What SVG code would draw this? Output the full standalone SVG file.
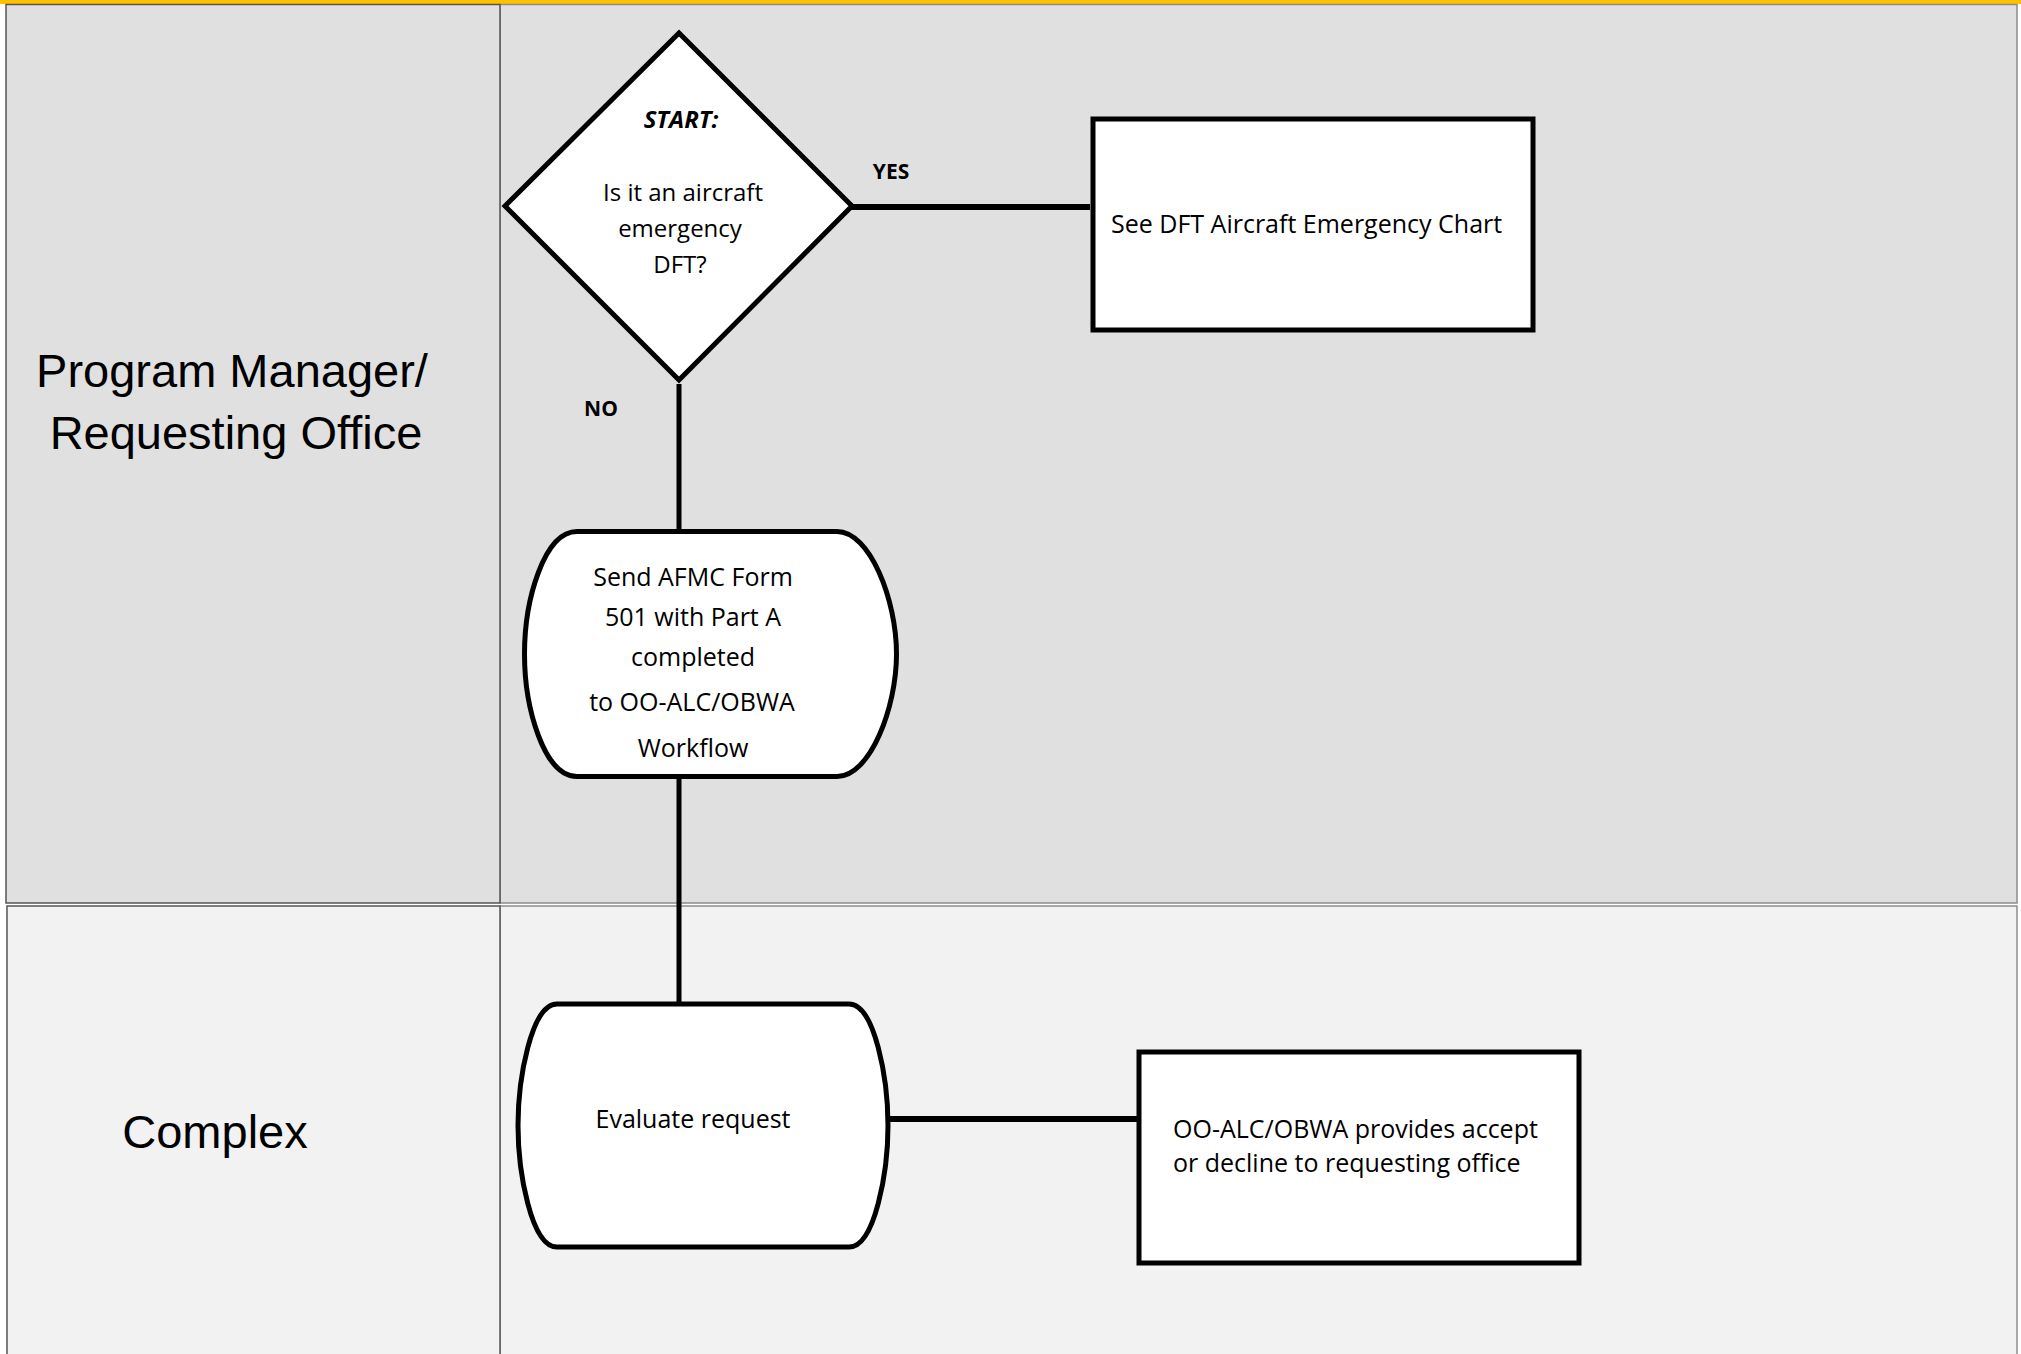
<svg xmlns="http://www.w3.org/2000/svg" width="2021" height="1354" viewBox="0 0 2021 1354">
<style>
.lane1{fill:#e0e0e0;stroke:#8c8c8c;stroke-width:1.5}
.lane2{fill:#f2f2f2;stroke:#8c8c8c;stroke-width:1.5}
.hdr{stroke:#555555}
.lbl{font-family:"Liberation Sans",Arial,sans-serif;font-size:47px;fill:#000;text-anchor:middle}
.node{fill:#ffffff;stroke:#000;stroke-width:5}
.t{font-family:"Open Sans","Noto Sans",sans-serif;font-size:25px;fill:#000}
.c{text-anchor:middle}
.dt{font-family:"Open Sans","Noto Sans",sans-serif;font-size:24px;fill:#000;text-anchor:middle}
.yn{font-family:"Open Sans","Noto Sans",sans-serif;font-size:21px;font-weight:bold;fill:#000;text-anchor:middle}
.conn{stroke:#000;fill:none}
</style>
<rect x="0" y="0" width="2021" height="1354" fill="#ffffff"/>
<rect x="0" y="0" width="2021" height="4" fill="#ffc000"/>
<g id="lanes">
<rect class="lane1" x="500" y="4.5" width="1517" height="898.5"/>
<rect class="lane1 hdr" x="6" y="4.5" width="494" height="898.5"/>
<rect class="lane2" x="500" y="906" width="1517" height="460"/>
<rect class="lane2 hdr" x="7" y="906" width="493" height="460"/>
<text class="lbl" x="232" y="387">Program Manager/</text>
<text class="lbl" x="236" y="449">Requesting Office</text>
<text class="lbl" x="215" y="1148">Complex</text>
</g>
<g id="connectors">
<line class="conn" x1="848" y1="207" x2="1090" y2="207" stroke-width="6"/>
<line class="conn" x1="679" y1="384" x2="679" y2="531" stroke-width="5"/>
<line class="conn" x1="679" y1="777" x2="679" y2="1004" stroke-width="5"/>
<line class="conn" x1="888" y1="1119" x2="1137" y2="1119" stroke-width="6"/>
<text class="yn" x="891" y="179">YES</text>
<text class="yn" x="601" y="416">NO</text>
</g>
<g id="start-decision">
<polygon class="node" points="679,33 852,206 679,380 505,206"/>
<text class="dt" x="681" y="128" font-weight="bold" font-style="italic">START:</text>
<text class="dt" x="683" y="201">Is it an aircraft</text>
<text class="dt" x="680" y="237">emergency</text>
<text class="dt" x="680" y="273">DFT?</text>
</g>
<g id="see-dft-chart">
<rect class="node" x="1093" y="119" width="440" height="211" stroke-width="6"/>
<text class="t" x="1111" y="233">See DFT Aircraft Emergency Chart</text>
</g>
<g id="send-form">
<path class="node" d="M577,531.5 H837 C870,531.5 896.5,600 896.5,654 C896.5,708 870,776.5 837,776.5 H577 C544,776.5 524.5,708 524.5,654 C524.5,600 544,531.5 577,531.5 Z"/>
<text class="t c" x="693" y="586">Send AFMC Form</text>
<text class="t c" x="693" y="626">501 with Part A</text>
<text class="t c" x="693" y="666">completed</text>
<text class="t c" x="692" y="711">to OO-ALC/OBWA</text>
<text class="t c" x="693" y="757">Workflow</text>
</g>
<g id="evaluate">
<path class="node" stroke-width="6" d="M557,1004 H849 C875,1004 888,1080 888,1125.5 C888,1171 875,1247 849,1247 H557 C531,1247 518,1171 518,1125.5 C518,1080 531,1004 557,1004 Z"/>
<text class="t c" x="693" y="1128">Evaluate request</text>
</g>
<g id="accept-decline">
<rect class="node" x="1139" y="1052" width="440" height="211" stroke-width="7"/>
<text class="t" x="1173" y="1138">OO-ALC/OBWA provides accept</text>
<text class="t" x="1173" y="1172">or decline to requesting office</text>
</g>
</svg>
